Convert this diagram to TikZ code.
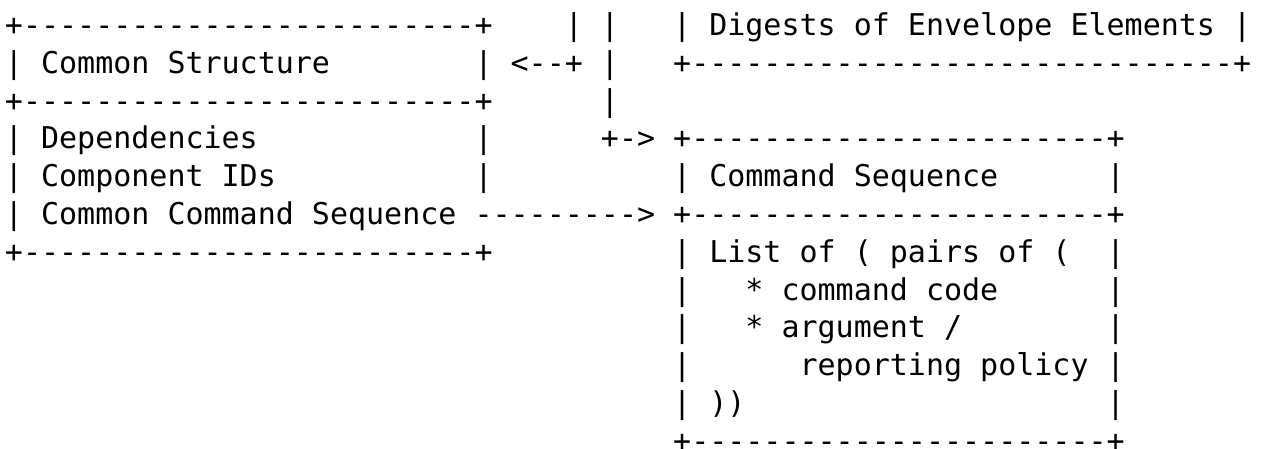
\documentclass[tikz,border=0pt]{standalone}
\usepackage{fontspec}
\newfontfamily\asciimono{DejaVu Sans Mono}
\tikzset{
  txt/.style={anchor=base west, inner sep=0pt, outer sep=0pt,
              font=\asciimono\fontsize{30}{36}\selectfont, text=black}
}
\begin{document}
\begin{tikzpicture}
\useasboundingbox (0,0) rectangle (1261pt,-449pt);
\begin{scope}[shift={(4.97pt,-35.5pt)}, x=18.06pt, y=-37.8pt]
% row 0
\node[txt] (r0a) at (0,0) {+-------------------------+};
\node[txt] (r0b) at (31,0) {|};
\node[txt] (r0c) at (33,0) {|};
\node[txt] (r0d) at (37,0) {| Digests of Envelope Elements |};
% row 1
\node[txt] (r1a) at (0,1) {| Common Structure};
\node[txt] (r1b) at (26,1) {|};
\node[txt] (r1c) at (28,1) {<--+};
\node[txt] (r1d) at (33,1) {|};
\node[txt] (r1e) at (37,1) {+------------------------------+};
% row 2
\node[txt] (r2a) at (0,2) {+-------------------------+};
\node[txt] (r2b) at (33,2) {|};
% row 3
\node[txt] (r3a) at (0,3) {| Dependencies};
\node[txt] (r3b) at (26,3) {|};
\node[txt] (r3c) at (33,3) {+->};
\node[txt] (r3d) at (37,3) {+-----------------------+};
% row 4
\node[txt] (r4a) at (0,4) {| Component IDs};
\node[txt] (r4b) at (26,4) {|};
\node[txt] (r4c) at (37,4) {| Command Sequence};
\node[txt] (r4d) at (61,4) {|};
% row 5
\node[txt] (r5a) at (0,5) {| Common Command Sequence};
\node[txt] (r5b) at (26,5) {--------->};
\node[txt] (r5c) at (37,5) {+-----------------------+};
% row 6
\node[txt] (r6a) at (0,6) {+-------------------------+};
\node[txt] (r6b) at (37,6) {| List of ( pairs of (};
\node[txt] (r6c) at (61,6) {|};
% row 7
\node[txt] (r7a) at (37,7) {|};
\node[txt] (r7b) at (41,7) {* command code};
\node[txt] (r7c) at (61,7) {|};
% row 8
\node[txt] (r8a) at (37,8) {|};
\node[txt] (r8b) at (41,8) {* argument /};
\node[txt] (r8c) at (61,8) {|};
% row 9
\node[txt] (r9a) at (37,9) {|};
\node[txt] (r9b) at (44,9) {reporting policy};
\node[txt] (r9c) at (61,9) {|};
% row 10
\node[txt] (r10a) at (37,10) {| ))};
\node[txt] (r10b) at (61,10) {|};
% row 11
\node[txt] (r11a) at (37,11) {+-----------------------+};
\end{scope}
\end{tikzpicture}
\end{document}
